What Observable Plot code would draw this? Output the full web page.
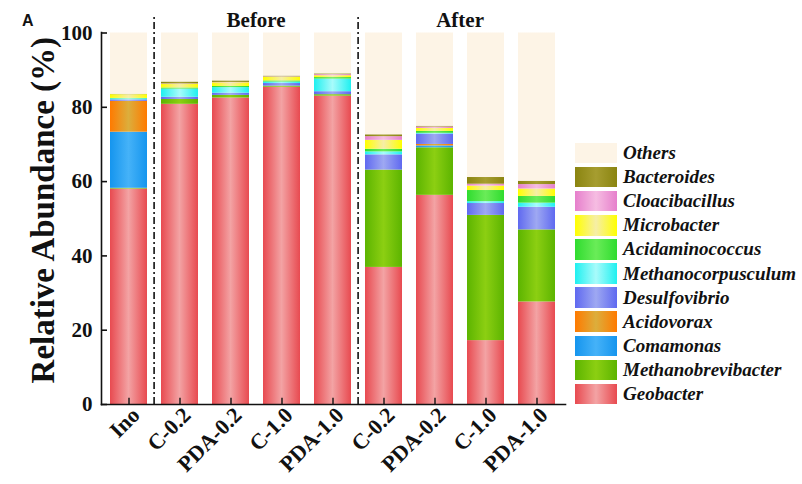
<!DOCTYPE html>
<html>
<head>
<meta charset="utf-8">
<script src="https://cdn.jsdelivr.net/npm/d3@7"></script>
<script src="https://cdn.jsdelivr.net/npm/@observablehq/plot@0.6"></script>
<style>
  body { margin: 0; background: #fff; }
  #wrap { position: relative; width: 802px; height: 484px; overflow: hidden; }
  #panel { position: absolute; left: 22px; top: 12px; font: bold 16px "Liberation Sans", Arial, sans-serif; color: #111; }
  #legend { position: absolute; left: 575px; top: 141px; font: italic bold 19px "Liberation Serif", "Times New Roman", serif; color: #111; }
  .row { display: flex; align-items: center; height: 24.1px; }
  .sw { width: 42px; height: 20.5px; margin-right: 6px; flex: none; }
</style>
</head>
<body>
<div id="wrap">
  <div id="chart"></div>
  <div id="panel">A</div>
  <div id="legend"></div>
</div>
<script>
// ---- data ----
const sampleIds    = ["Ino", "B1", "B2", "B3", "B4", "A1", "A2", "A3", "A4"];
const sampleLabels = ["Ino", "C-0.2", "PDA-0.2", "C-1.0", "PDA-1.0", "C-0.2", "PDA-0.2", "C-1.0", "PDA-1.0"];
const groupLabels  = ["Before", "After"];
const yTicks       = [0, 20, 40, 60, 80, 100];

// taxa, bottom of stack first
const taxa = ["Geobacter", "Methanobrevibacter", "Comamonas", "Acidovorax", "Desulfovibrio",
              "Methanocorpusculum", "Acidaminococcus", "Microbacter", "Cloacibacillus", "Bacteroides", "Others"];

const geobacter          = [58.0, 80.8, 82.5, 85.4, 83.0, 36.9, 56.3, 17.2, 27.6];
const methanobrevibacter = [0.2, 1.3, 0.7, 0.3, 0.4, 26.2, 12.8, 33.7, 19.4];
const comamonas          = [15.1, 0, 0, 0, 0, 0, 0.5, 0, 0];
const acidovorax         = [8.3, 0, 0, 0, 0, 0, 0.4, 0, 0];
const desulfovibrio      = [0.4, 0.6, 0.6, 0.7, 0.8, 4.1, 2.8, 3.2, 6.1];
const methanocorpusculum = [0.3, 2.2, 1.5, 0.4, 3.4, 0.8, 0.2, 0.5, 1.1];
const acidaminococcus    = [0.1, 0.3, 0.3, 0.3, 0.4, 0.7, 0.5, 3.0, 1.8];
const microbacter        = [1.0, 1.0, 1.0, 1.0, 0.5, 2.4, 0.8, 1.2, 2.0];
const cloacibacillus     = [0.0, 0.1, 0.1, 0.1, 0.3, 1.0, 0.4, 0.5, 1.2];
const bacteroides        = [0.1, 0.5, 0.4, 0.2, 0.2, 0.5, 0.2, 1.8, 0.9];
const others             = [16.5, 13.2, 12.9, 11.6, 11.0, 27.4, 25.1, 38.9, 39.9];

const series = [geobacter, methanobrevibacter, comamonas, acidovorax, desulfovibrio,
                methanocorpusculum, acidaminococcus, microbacter, cloacibacillus, bacteroides, others];

// colours (edge / centre of the cylinder-like gradient)
const edgeColors   = ["#e84a50", "#5cb400", "#1595ee", "#ff7a00", "#5f69f0", "#1ff0f0", "#2fdc2f", "#ffff00", "#e67fcc", "#8a8410", "#fdf4e6"];
const centerColors = ["#f3a3a4", "#8ccf12", "#45b2f8", "#dcae3c", "#9ea8f2", "#a8fbfb", "#6aec58", "#f6eea6", "#f6bde2", "#a69d30", "#fdf4e6"];

// long table built from the arrays
const table = [];
taxa.forEach((t, k) => sampleIds.forEach((s, i) => table.push({sample: s, taxon: t, value: series[k][i]})));

const labelOf = id => sampleLabels[sampleIds.indexOf(id)];
const serif = "'Liberation Serif', 'Times New Roman', serif";

const chart = Plot.plot({
  width: 802,
  height: 484,
  marginLeft: 101,
  marginRight: 237,
  marginTop: 32,
  marginBottom: 80,
  style: {fontFamily: serif, fontSize: "21px", fontWeight: "bold", color: "#111", background: "transparent"},
  x: {domain: sampleIds, range: [101, 565], paddingInner: 0.266, paddingOuter: 0.116, align: 0.5, axis: null},
  y: {domain: [0, 100], range: [404, 32.5]},
  color: {domain: taxa, range: taxa.map((t, i) => `url(#grad${i})`)},
  marks: [
    Plot.barY(table, {x: "sample", y: "value", fill: "taxon", order: taxa}),
    Plot.frame({anchor: "left", stroke: "#111", strokeWidth: 1.6}),
    Plot.frame({anchor: "bottom", stroke: "#111", strokeWidth: 1.6}),
    Plot.axisY({ticks: yTicks, tickSize: -6, tickPadding: 15, strokeWidth: 1.6, fontSize: 21, fontWeight: "bold", label: null}),
    Plot.ruleX(sampleIds, {x: d => d, y1: 0, y2: 1.7, stroke: "#111", strokeWidth: 1.4}),
    Plot.text(sampleIds, {x: d => d, frameAnchor: "bottom", text: d => labelOf(d), rotate: -45,
      textAnchor: "end", dx: 12, dy: 12, fontSize: 22, fontWeight: "bold", fill: "#111"}),
    Plot.ruleX(["B1", "A1"], {x: d => d, dx: -25.9, y1: 0, y2: 105, stroke: "#111", strokeWidth: 1.6, strokeDasharray: "7,3,2,3"}),
    Plot.text([{x: "B3", t: groupLabels[0]}, {x: "A3", t: groupLabels[1]}], {x: "x", y: 101.5, dx: -25.9, text: "t",
      lineAnchor: "bottom", textAnchor: "middle", fontSize: 21, fontWeight: "bold", fill: "#111"}),
    Plot.text(["Relative Abundance (%)"], {frameAnchor: "left", y: 52.3, dx: -58, rotate: -90, text: d => d,
      textAnchor: "middle", fontSize: 33, fontWeight: "bold", fill: "#111"})
  ]
});

// gradient definitions referenced by the colour scale
const defs = d3.select(chart).insert("defs", ":first-child");
taxa.forEach((t, i) => {
  const g = defs.append("linearGradient").attr("id", `grad${i}`)
    .attr("x1", 0).attr("x2", 1).attr("y1", 0).attr("y2", 0);
  g.append("stop").attr("offset", "0%").attr("stop-color", edgeColors[i]);
  g.append("stop").attr("offset", "50%").attr("stop-color", centerColors[i]);
  g.append("stop").attr("offset", "100%").attr("stop-color", edgeColors[i]);
});
document.getElementById("chart").appendChild(chart);

// legend (top entry = top of stack)
const legend = document.getElementById("legend");
taxa.slice().reverse().forEach(t => {
  const i = taxa.indexOf(t);
  const row = document.createElement("div");
  row.className = "row";
  const sw = document.createElement("div");
  sw.className = "sw";
  sw.style.background = `linear-gradient(to right, ${edgeColors[i]}, ${centerColors[i]}, ${edgeColors[i]})`;
  const tx = document.createElement("span");
  tx.textContent = t;
  row.appendChild(sw);
  row.appendChild(tx);
  legend.appendChild(row);
});
</script>
</body>
</html>
